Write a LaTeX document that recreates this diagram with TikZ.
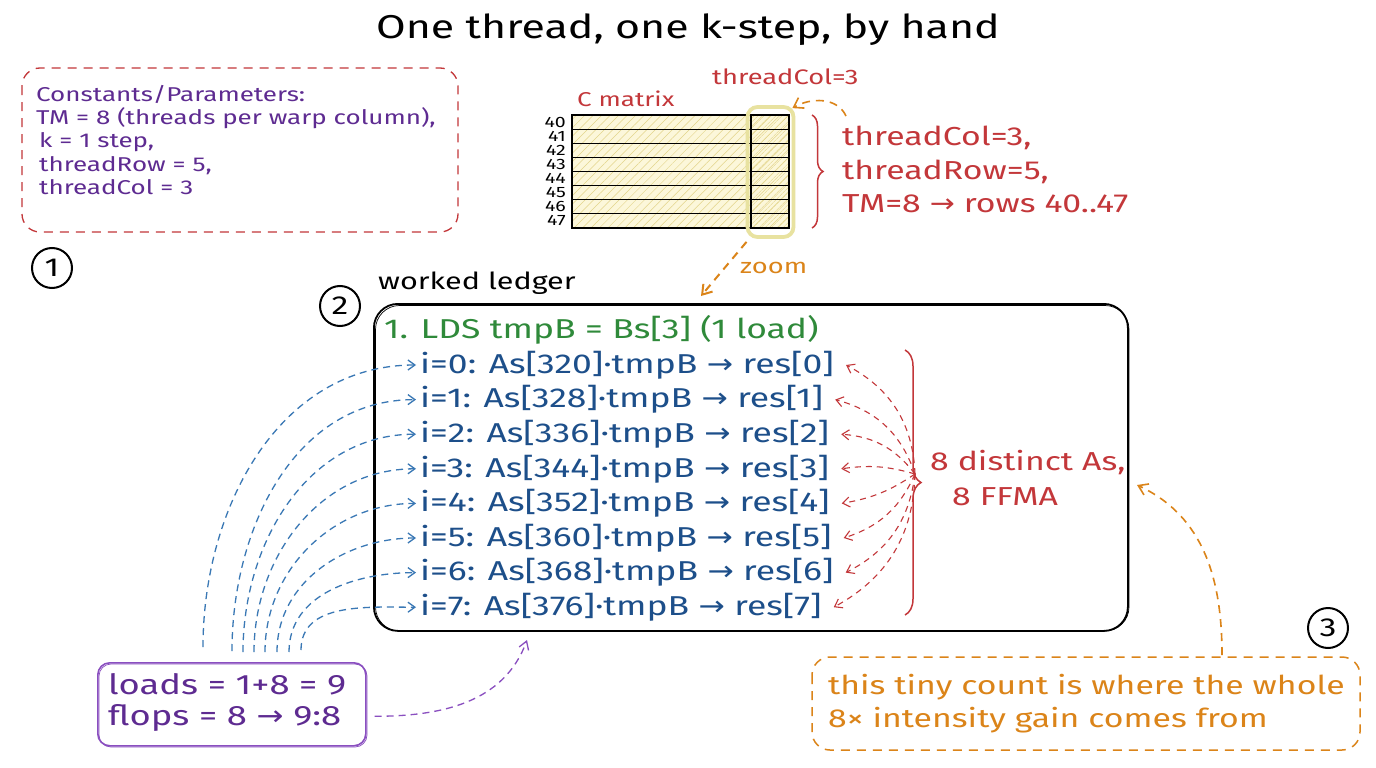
\documentclass[tikz,border=0pt]{standalone}
\usepackage{fontspec}
\setmainfont{Fira Sans}[FakeStretch=1.3]
\newfontfamily\djv{DejaVu Sans}[FakeStretch=1.15]
\usetikzlibrary{arrows.meta,decorations.pathreplacing,patterns.meta,calc}
\newcommand{\rarr}{{\djv →}}
\definecolor{cred}{HTML}{C3373A}
\definecolor{cpurple}{HTML}{5E2B91}
\definecolor{cpurpl2}{HTML}{8A4FC0}
\definecolor{cblue}{HTML}{1D4F8A}
\definecolor{cblue2}{HTML}{3A78B5}
\definecolor{cgreen}{HTML}{2F8A3A}
\definecolor{corange}{HTML}{DB8419}
\definecolor{cyel}{HTML}{E8E2A0}
\definecolor{cfill}{HTML}{FCF7DA}
\definecolor{chatch}{HTML}{E3D48A}
\newcommand{\fs}[1]{\fontsize{#1}{#1}\selectfont}
\newcommand{\fsl}[2]{\fontsize{#1}{#2}\selectfont}
\tikzset{
  txt/.style={inner sep=0pt, anchor=west},
  numcirc/.style={circle, draw=black, line width=2pt, minimum size=40pt, inner sep=0pt, font=\fs{26}},
  row/.style={txt, text=cblue, font=\fs{27.3}},
  bluearr/.style={cblue2, dashed, dash pattern=on 7pt off 5pt, line width=1.3pt, -{Straight Barb[length=7pt,width=10pt]}},
  redarr/.style={cred, dashed, dash pattern=on 6pt off 5pt, line width=1.1pt, -{Straight Barb[length=7pt,width=10pt]}},
  orarr/.style={corange, dashed, dash pattern=on 8pt off 6pt, line width=1.6pt, -{Straight Barb[length=9pt,width=12pt]}},
  redbrace/.style={cred, line width=1.5pt, decorate, decoration={brace, amplitude=11pt}},
}
\begin{document}
\begin{tikzpicture}[x=1pt,y=1pt]
\useasboundingbox (0,0) rectangle (1376,-768);
\fill[white] (0,0) rectangle (1376,-768);

% title
\node[inner sep=0pt, font=\fs{33}] (title) at (688,-30) {One thread, one k-step, by hand};

% box 1
\draw[cred, dashed, dash pattern=on 9pt off 7pt, line width=1.3pt, rounded corners=18pt] (22,-68) rectangle (458,-232);
\node[txt, anchor=north west, text=cpurple, font=\fsl{20}{23.3}, align=left] (params) at (36,-85)
  {Constants/Parameters:\\
   TM = 8 (threads per warp column),\\
   \hspace{3pt}k = 1 step,\\
   \hspace{3pt}threadRow = 5,\\
   \hspace{3pt}threadCol = 3};
\node[numcirc] (c1) at (52,-268) {1};

% C matrix
\node[txt, text=cred, font=\fs{20}] (cmat) at (577,-99) {C matrix};
\fill[cfill] (572,-115) rectangle (789,-228);
\fill[pattern={Lines[angle=45,distance=6pt,line width=0.5pt]}, pattern color=chatch] (572,-115) rectangle (789,-228);
\fill[pattern={Lines[angle=45,distance=4pt,line width=0.6pt]}, pattern color=chatch] (751,-115) rectangle (789,-228);
\draw[line width=1.2pt] (572,-115) rectangle (789,-228);
\foreach \i in {1,...,7} \draw[line width=1.2pt] (572,-115-14.125*\i) -- (789,-115-14.125*\i);
\draw[line width=1.2pt] (751,-115) -- (751,-228);
\foreach \i [count=\j from 0] in {40,...,47}
  \node[inner sep=0pt, anchor=east, font=\fs{15}] (rl\i) at (566,-122-14.125*\j) {\i};
\node[draw=cyel, line width=3.8pt, rounded corners=10pt, minimum width=46pt, minimum height=130pt, inner sep=0pt] (hl) at (770.5,-172) {};
\node[txt, text=cred, font=\fs{21}] (tcol) at (712,-77) {threadCol=3};
\draw[redbrace] (812,-115) -- (812,-228);
\node[txt, anchor=north west, text=cred, font=\fsl{26}{33.5}, align=left] (cinfo) at (842,-126)
  {threadCol=3,\\ threadRow=5,\\ TM=8 \rarr{} rows 40..47};
\coordinate (tcs) at (846,-116);
\draw[orarr] (tcs) to[out=115,in=30] ($(hl.north east)+(-3,-3)$);
\draw[orarr, line width=2pt] ($(hl.south)+(-24,-3)$) -- (701,-296);
\node[txt, text=corange, font=\fs{21}] (zoom) at (740,-268) {zoom};

% ledger
\node[txt, font=\fs{23.5}] (wl) at (378,-283) {worked ledger};
\node[numcirc] (c2) at (340,-306) {2};
\node[draw=black, line width=1.8pt, rounded corners=24pt, minimum width=754pt, minimum height=327pt, anchor=north west, inner sep=0pt] (ledger) at (373,-303) {};
\draw[line width=0.7pt, rounded corners=24pt] (375.5,-305.5) rectangle (1129,-631);
\node[txt, text=cgreen, font=\fs{27.3}] (lds) at (384,-330) {1. LDS tmpB = Bs[3] (1 load)};
\foreach \i/\a in {0/320,1/328,2/336,3/344,4/352,5/360,6/368,7/376}
  \node[row] (r\i) at (420,-365-34.6*\i) {i=\i: As[\a]·tmpB \rarr{} res[\i]};

% brace and red arrows
\draw[redbrace, decoration={brace, amplitude=16pt}] (905,-350) -- (905,-615);
\coordinate (bm) at (915,-474);
\node[txt, text=cred, font=\fs{26}] (dist) at (930,-463) {8 distinct As,};
\node[txt, text=cred, font=\fs{26}] (ffma) at (952,-497) {8 FFMA};
\foreach \i/\b in {0/30,1/28,2/24,3/12}
  \draw[redarr] (bm) to[bend right=\b] ($(r\i.east)+(12,0)$);
\foreach \i/\b in {4/12,5/24,6/28,7/30}
  \draw[redarr] (bm) to[bend left=\b] ($(r\i.east)+(12,0)$);

% loads box
\node[draw=cpurpl2, line width=1.6pt, rounded corners=12pt, minimum width=268pt, minimum height=83pt, anchor=north west, inner sep=0pt] (loads) at (97,-662) {};
\draw[cpurpl2, line width=0.7pt, rounded corners=12pt] (99,-664) rectangle (367,-747);
\node[txt, anchor=north west, text=cpurple, font=\fsl{28}{31}, align=left] (loadtxt) at (108,-673)
  {loads = 1+8 = 9\\ flops = 8 \rarr{} 9:8};
\foreach \i/\x/\y in {0/203/647,1/232/651,2/243/652,3/254/652,4/265/652,5/277/652,6/289/652,7/301/650}
  \draw[bluearr] (\x,-\y) to[out=90,in=180] ($(r\i.west)+(-4,0)$);
\draw[cpurpl2, dashed, dash pattern=on 7pt off 5pt, line width=1.3pt, -{Straight Barb[length=8pt,width=10pt]}] ($(loads.east)+(8,-12)$) to[out=0,in=-110] (527,-640);

% orange note
\node[numcirc] (c3) at (1328,-628) {3};
\draw[corange, dashed, dash pattern=on 9pt off 7pt, line width=1.5pt, rounded corners=18pt] (812,-657) rectangle (1360,-750);
\node[txt, anchor=north west, text=corange, font=\fsl{26}{33}, align=left] (note) at (828,-674)
  {this tiny count is where the whole\\ 8× intensity gain comes from};
\draw[orarr] (1222,-655) to[out=90,in=-25] (1137,-485);
\end{tikzpicture}
\end{document}
